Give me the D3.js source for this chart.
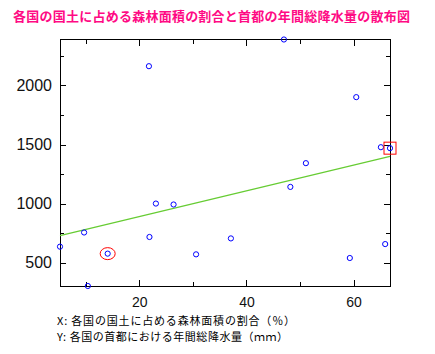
<!DOCTYPE html>
<html>
<head>
<meta charset="utf-8">
<script src="https://cdn.jsdelivr.net/npm/d3@7"></script>
<style>
    body { margin: 0; background: #fff; }
    svg { display: block; }
</style>
</head>
<body>
<div id="viz"></div>
<script>
// forest share of land area (%) and annual rainfall in the capital (mm)
const forestPct = [21.8, 23.1, 26.4, 9.7, 5.2, 21.9, 14.1, 30.6, 10.4,
    47.0, 60.5, 65.1, 66.8, 51.1, 48.2, 37.1, 65.9, 59.3]
const rainfall = [2163, 1000, 992, 755, 635, 717, 576, 570, 302,
    2389, 1901, 1477, 1469, 1342, 1141, 705, 657, 539]
const circled = 6   // red ellipse
const boxed = 12    // red square

const xMajor = [20, 40, 60], xMinor = [10, 30, 50]
const yMajor = [500, 1000, 1500, 2000], yMinor = [750, 1250, 1750, 2250]

const title = '各国の国土に占める森林面積の割合と首都の年間総降水量の散布図'
const xLabel = 'X: 各国の国土に占める森林面積の割合（％）'
const yLabel = 'Y: 各国の首都における年間総降水量（ｍｍ）'

const data = forestPct.map((x, i) => ({ x: x, y: rainfall[i] }))

const w = 435, h = 354
const margin = { top: 39.5, right: 45, bottom: 68, left: 60 }

const svg = d3.select('#viz')
    .append('svg')
    .attr('width', w)
    .attr('height', h)

const x = d3.scaleLinear()
    .domain(d3.extent(data, d => d.x))
    .range([margin.left, w - margin.right])

const y = d3.scaleLinear()
    .domain(d3.extent(data, d => d.y))
    .range([h - margin.bottom, margin.top])

svg.append('text')
    .attr('x', 13)
    .attr('y', 21)
    .attr('textLength', 397)
    .attr('lengthAdjust', 'spacing')
    .style('font-family', '"Noto Sans CJK JP", sans-serif')
    .style('font-size', '13px')
    .style('font-weight', 'bold')
    .attr('fill', '#ff0a84')
    .text(title)

// axes: ticks point inwards on all four sides
const axisStyle = (g) => {
    g.select('.domain').remove()
    g.selectAll('line').attr('stroke', '#000').attr('shape-rendering', 'crispEdges')
}

const addAxis = (axis, tr) => svg.append('g')
    .attr('transform', tr)
    .call(axis)
    .call(axisStyle)

const yl = addAxis(d3.axisLeft(y).tickValues(yMajor).tickSize(-6).tickPadding(8).tickFormat(d3.format('d')),
    `translate(${margin.left},0)`)
yl.selectAll('text')
    .style('font-family', '"Liberation Sans", Arial, sans-serif')
    .style('font-size', '16px')
    .attr('fill', '#111')
addAxis(d3.axisLeft(y).tickValues(yMinor).tickSize(-4).tickFormat(''),
    `translate(${margin.left},0)`)
addAxis(d3.axisRight(y).tickValues(yMajor).tickSize(-6).tickFormat(''),
    `translate(${w - margin.right},0)`)
addAxis(d3.axisRight(y).tickValues(yMinor).tickSize(-4).tickFormat(''),
    `translate(${w - margin.right},0)`)

const xb = addAxis(d3.axisBottom(x).tickValues(xMajor).tickSize(-6).tickPadding(11),
    `translate(0,${h - margin.bottom})`)
xb.selectAll('text')
    .style('font-family', '"Liberation Sans", Arial, sans-serif')
    .style('font-size', '14px')
    .attr('fill', '#111')
addAxis(d3.axisBottom(x).tickValues(xMinor).tickSize(-4).tickFormat(''),
    `translate(0,${h - margin.bottom})`)
addAxis(d3.axisTop(x).tickValues(xMajor).tickSize(-6).tickFormat(''),
    `translate(0,${margin.top})`)
addAxis(d3.axisTop(x).tickValues(xMinor).tickSize(-4).tickFormat(''),
    `translate(0,${margin.top})`)

svg.append('rect')
    .attr('x', margin.left)
    .attr('y', margin.top)
    .attr('width', w - margin.left - margin.right)
    .attr('height', h - margin.top - margin.bottom)
    .attr('fill', 'none')
    .attr('stroke', '#000')
    .attr('shape-rendering', 'crispEdges')

// least squares trend line
const mx = d3.mean(data, d => d.x), my = d3.mean(data, d => d.y)
const slope = d3.sum(data, d => (d.x - mx) * (d.y - my)) / d3.sum(data, d => (d.x - mx) ** 2)
const fit = v => my + slope * (v - mx)
const [x0, x1] = x.domain()

svg.append('line')
    .attr('x1', x(x0)).attr('y1', y(fit(x0)))
    .attr('x2', x(x1)).attr('y2', y(fit(x1)))
    .attr('stroke', '#66cc33')
    .attr('stroke-width', 1.2)

svg.selectAll('circle.pt')
    .data(data)
    .enter()
    .append('circle')
    .attr('class', 'pt')
    .attr('cx', d => x(d.x))
    .attr('cy', d => y(d.y))
    .attr('r', 2.6)
    .attr('fill', 'none')
    .attr('stroke', '#0000ff')
    .attr('stroke-width', 1)

svg.append('ellipse')
    .attr('cx', x(data[circled].x))
    .attr('cy', y(data[circled].y))
    .attr('rx', 7.5)
    .attr('ry', 6)
    .attr('fill', 'none')
    .attr('stroke', '#ff0000')

svg.append('rect')
    .attr('x', x(data[boxed].x) - 6)
    .attr('y', y(data[boxed].y) - 6)
    .attr('width', 12)
    .attr('height', 12)
    .attr('fill', 'none')
    .attr('stroke', '#ff0000')

const lab = svg.append('g')
    .style('font-family', '"Noto Sans CJK JP", sans-serif')
    .style('font-size', '11px')
    .attr('fill', '#000')
lab.append('text').attr('x', 57).attr('y', 325)
    .attr('textLength', 238).attr('lengthAdjust', 'spacing').text(xLabel)
lab.append('text').attr('x', 57).attr('y', 341)
    .attr('textLength', 231).attr('lengthAdjust', 'spacing').text(yLabel)
</script>
</body>
</html>
